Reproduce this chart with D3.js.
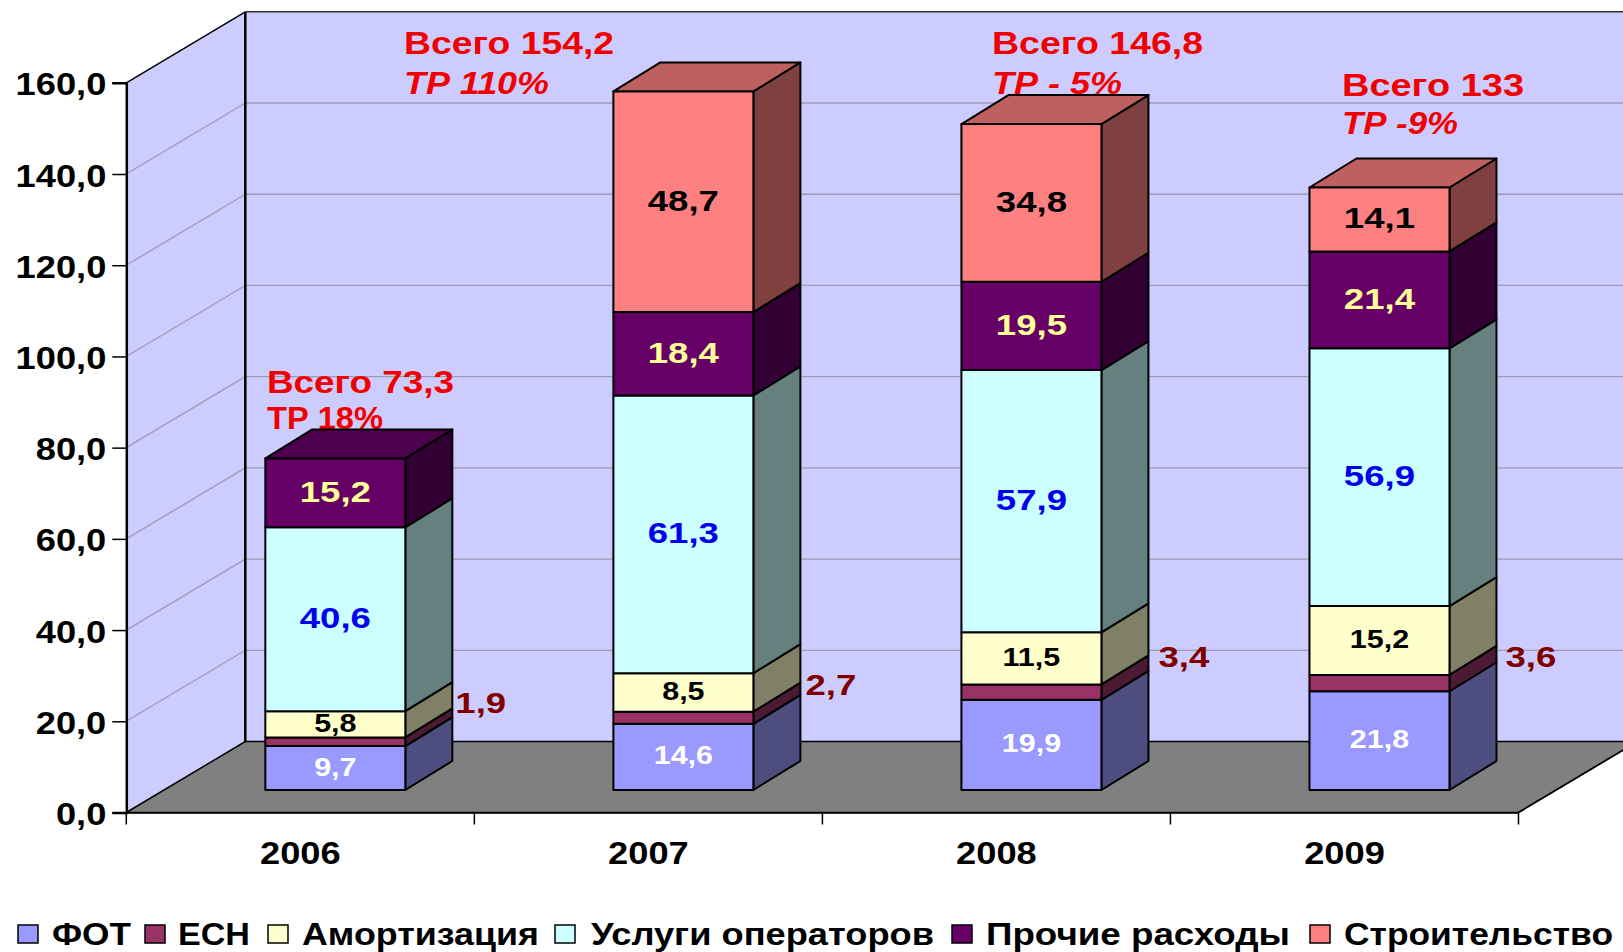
<!DOCTYPE html>
<html>
<head>
<meta charset="utf-8">
<style>
  body { margin: 0; background: #fff; overflow: hidden; }
  text { font-family: "Liberation Sans", Arial, sans-serif; font-weight: bold; }
</style>
<script src="https://cdn.jsdelivr.net/npm/d3@7"></script>
</head>
<body>
<div id="chart"></div>
<script>
const years = ["2006", "2007", "2008", "2009"]
const seriesNames = ["ФОТ", "ЕСН", "Амортизация", "Услуги операторов", "Прочие расходы", "Строительство"]

const fot = [9.7, 14.6, 19.9, 21.8]
const esn = [1.9, 2.7, 3.4, 3.6]
const amort = [5.8, 8.5, 11.5, 15.2]
const operators = [40.6, 61.3, 57.9, 56.9]
const other = [15.2, 18.4, 19.5, 21.4]
const building = [0, 48.7, 34.8, 14.1]

const yTicks = [0, 20, 40, 60, 80, 100, 120, 140, 160]
const totalNotes = ["Всего 73,3", "Всего 154,2", "Всего 146,8", "Всего 133"]
const growthNotes = ["ТР 18%", "ТР 110%", "ТР - 5%", "ТР -9%"]

// colours per series: front face, side face, top face, value label
const frontColors = ["#9999ff", "#993366", "#ffffcc", "#ccffff", "#660066", "#ff8080"]
const sideColors = ["#4d4d80", "#4d1a33", "#808066", "#668080", "#330033", "#804040"]
const topColors = ["#7373bf", "#732650", "#bfbf99", "#99bfbf", "#4d004d", "#bf6060"]
const labelColors = ["#ffffff", "#800000", "#000000", "#0000ee", "#ffff99", "#000000"]
const labelSizes = [25, 30, 25, 30, 30, 30]

// layout of the free-standing texts
const notePos = [
  { x: 267, total: 393, growth: 429, wTotal: 187, wGrowth: 116, italic: false },
  { x: 404, total: 54, growth: 94, wTotal: 210, wGrowth: 145, italic: true },
  { x: 992, total: 54, growth: 94, wTotal: 211, wGrowth: 130, italic: true },
  { x: 1342, total: 96, growth: 134, wTotal: 182, wGrowth: 116, italic: true }
]
const esnNudge = [{ x: 3, y: -9 }, { x: 5, y: -3 }, { x: 10, y: -5 }, { x: 9, y: 4 }]
const legendPos = [
  { box: 18, text: 52, w: 79 }, { box: 145, text: 178, w: 72 },
  { box: 268, text: 302, w: 237 }, { box: 555, text: 591, w: 343 },
  { box: 952, text: 986, w: 304 }, { box: 1310, text: 1344, w: 269 }
]

const outerWidth = 1623, outerHeight = 952
const wall = { dx: 119, dy: 71 }      // depth of the chart box
const barDepth = { dx: 47, dy: 29 }
const barShift = { dx: 35, dy: 22.5 } // bar front relative to the box front
const stretch = 1.17                  // the picture is stretched sideways
const valueStretch = 1.22

const svg = d3.select("#chart").append("svg")
  .attr("width", outerWidth)
  .attr("height", outerHeight)
  .attr("viewBox", `0 0 ${outerWidth} ${outerHeight}`)
  .style("display", "block")

const x = d3.scaleBand().domain(years).range([126.3, 1518.5])
const y = d3.scaleLinear().domain([0, 160]).range([812.5, 82.8])
const yBar = d3.scaleLinear().domain([0, 160]).range([790, 65.2])

const commaFormat = d3.formatLocale({ decimal: ",", thousands: " ", grouping: [3], currency: ["", ""] }).format(".1f")
const poly = pts => pts.map(p => p.join(",")).join(" ")

const x0 = x.range()[0], x1 = x.range()[1]

// walls and floor
svg.append("polygon").attr("fill", "#ccccff")
  .attr("points", poly([[x0, y(0)], [x0, y(160)], [x0 + wall.dx, y(160) - wall.dy], [x0 + wall.dx, y(0) - wall.dy]]))
svg.append("rect").attr("fill", "#ccccff")
  .attr("x", x0 + wall.dx).attr("y", y(160) - wall.dy)
  .attr("width", x1 - x0).attr("height", y(0) - y(160))
svg.append("polygon").attr("fill", "#808080").attr("stroke", "#000").attr("stroke-width", 1.5)
  .attr("points", poly([[x0, y(0)], [x0 + wall.dx, y(0) - wall.dy], [x1 + wall.dx, y(0) - wall.dy], [x1, y(0)]]))

// gridlines: along the side wall, then along the back wall
const grid = svg.append("g").attr("stroke", "#9c9cb4").attr("stroke-width", 1.3)
grid.selectAll("line.side").data(yTicks.slice(1, -1)).join("line").attr("class", "side")
  .attr("x1", x0).attr("y1", d => y(d))
  .attr("x2", x0 + wall.dx).attr("y2", d => y(d) - wall.dy)
grid.selectAll("line.back").data(yTicks.slice(1, -1)).join("line").attr("class", "back")
  .attr("x1", x0 + wall.dx).attr("y1", d => y(d) - wall.dy)
  .attr("x2", x1 + wall.dx).attr("y2", d => y(d) - wall.dy)

// box outline
const outline = svg.append("g").attr("stroke", "#000").attr("fill", "none")
outline.append("line").attr("stroke-width", 1.5)
  .attr("x1", x0).attr("y1", y(160)).attr("x2", x0 + wall.dx).attr("y2", y(160) - wall.dy)
outline.append("line").attr("stroke-width", 1.5).attr("stroke", "#333")
  .attr("x1", x0 + wall.dx).attr("y1", y(160) - wall.dy).attr("x2", x1 + wall.dx).attr("y2", y(160) - wall.dy)
outline.append("line").attr("stroke-width", 2.5)
  .attr("x1", x0 + wall.dx).attr("y1", y(160) - wall.dy).attr("x2", x0 + wall.dx).attr("y2", y(0) - wall.dy)

// axes
const yAxis = svg.append("g").attr("transform", `translate(${x0},0)`)
  .call(d3.axisLeft(y).tickValues(yTicks).tickFormat(commaFormat).tickSize(14))
yAxis.select(".domain").attr("stroke", "#000").attr("stroke-width", 2.5)
yAxis.selectAll(".tick line").attr("stroke-width", 1.5)
yAxis.selectAll(".tick text")
  .attr("x", 0).attr("dy", null)
  .attr("text-anchor", "end")
  .attr("fill", "#000")
  .style("font-size", "31px")
  .attr("transform", `translate(-20,12) scale(${stretch},1)`)

const xAxis = svg.append("g").attr("transform", `translate(0,${y(0)})`)
  .call(d3.axisBottom(x).tickSize(0))
xAxis.select(".domain").attr("stroke", "#000").attr("stroke-width", 1.5)
xAxis.selectAll(".tick text")
  .attr("y", 0).attr("dy", null)
  .attr("text-anchor", "middle")
  .attr("fill", "#000")
  .style("font-size", "31px")
  .attr("transform", `translate(0,51) scale(${stretch},1)`)
xAxis.selectAll("line.edge").data(years.concat("end")).join("line").attr("class", "edge")
  .attr("stroke", "#000").attr("stroke-width", 1.5)
  .attr("x1", d => d === "end" ? x1 : x(d)).attr("x2", d => d === "end" ? x1 : x(d))
  .attr("y1", 0).attr("y2", 12)

// floor right edge goes past the picture
svg.append("line").attr("stroke", "#000").attr("stroke-width", 1.5)
  .attr("x1", x1).attr("y1", y(0)).attr("x2", x1 + wall.dx).attr("y2", y(0) - wall.dy)

// totals above the bars (they sit behind the bars in the picture)
const notes = svg.append("g").attr("fill", "#f00000")
notes.selectAll("text.total").data(totalNotes).join("text").attr("class", "total")
  .attr("x", (d, i) => notePos[i].x).attr("y", (d, i) => notePos[i].total)
  .attr("textLength", (d, i) => notePos[i].wTotal)
  .attr("lengthAdjust", "spacingAndGlyphs")
  .style("font-size", "31px")
  .text(d => d)
notes.selectAll("text.growth").data(growthNotes).join("text").attr("class", "growth")
  .attr("x", (d, i) => notePos[i].x).attr("y", (d, i) => notePos[i].growth)
  .attr("textLength", (d, i) => notePos[i].wGrowth)
  .attr("lengthAdjust", "spacingAndGlyphs")
  .style("font-size", "31px")
  .style("font-style", (d, i) => notePos[i].italic ? "italic" : "normal")
  .text(d => d)

// stacked bars
const rows = years.map((year, i) => {
  const row = { year }
  ;[fot, esn, amort, operators, other, building].forEach((s, k) => { row[seriesNames[k]] = s[i] })
  return row
})
const stacked = d3.stack().keys(seriesNames)(rows)

const barW = 140
const barLeft = year => x(year) + (x.bandwidth() - barW) / 2 + barShift.dx

const segments = []
years.forEach((year, i) => {
  stacked.forEach((layer, k) => {
    const [v0, v1] = layer[i]
    if (v1 > v0) segments.push({ year, i, k, v0, v1, value: v1 - v0 })
  })
})
const isTop = d => !segments.some(s => s.year === d.year && s.k > d.k)

const bars = svg.append("g").attr("stroke", "#000").attr("stroke-width", 2).attr("stroke-linejoin", "round")
const seg = bars.selectAll("g").data(segments).join("g")

seg.append("polygon")
  .attr("fill", d => sideColors[d.k])
  .attr("points", d => {
    const r = barLeft(d.year) + barW
    return poly([[r, yBar(d.v0)], [r, yBar(d.v1)], [r + barDepth.dx, yBar(d.v1) - barDepth.dy], [r + barDepth.dx, yBar(d.v0) - barDepth.dy]])
  })
seg.filter(isTop).append("polygon")
  .attr("fill", d => topColors[d.k])
  .attr("points", d => {
    const l = barLeft(d.year), t = yBar(d.v1)
    return poly([[l, t], [l + barW, t], [l + barW + barDepth.dx, t - barDepth.dy], [l + barDepth.dx, t - barDepth.dy]])
  })
seg.append("rect")
  .attr("fill", d => frontColors[d.k])
  .attr("x", d => barLeft(d.year))
  .attr("y", d => yBar(d.v1))
  .attr("width", barW)
  .attr("height", d => yBar(d.v0) - yBar(d.v1))

// value labels: on the front face, except ЕСН which sits beside the bar
svg.append("g").selectAll("text").data(segments).join("text")
  .attr("text-anchor", d => d.k === 1 ? "start" : "middle")
  .attr("fill", d => labelColors[d.k])
  .style("font-size", d => labelSizes[d.k] + "px")
  .attr("transform", d => {
    const mid = yBar((d.v0 + d.v1) / 2)
    const baseline = labelSizes[d.k] * 0.3
    if (d.k === 1) {
      const n = esnNudge[d.i]
      return `translate(${barLeft(d.year) + barW + barDepth.dx + n.x},${mid - barDepth.dy + baseline + n.y}) scale(${valueStretch},1)`
    }
    return `translate(${barLeft(d.year) + barW / 2},${mid + baseline}) scale(${valueStretch},1)`
  })
  .text(d => commaFormat(d.value))

// legend
const legend = svg.append("g").selectAll("g").data(seriesNames).join("g")
legend.append("rect")
  .attr("x", (d, i) => legendPos[i].box).attr("y", 925)
  .attr("width", 20).attr("height", 18)
  .attr("fill", (d, i) => frontColors[i])
  .attr("stroke", "#000").attr("stroke-width", 1.5)
legend.append("text")
  .attr("x", (d, i) => legendPos[i].text).attr("y", 945)
  .attr("textLength", (d, i) => legendPos[i].w)
  .attr("lengthAdjust", "spacingAndGlyphs")
  .style("font-size", "31px")
  .text(d => d)
</script>
</body>
</html>
